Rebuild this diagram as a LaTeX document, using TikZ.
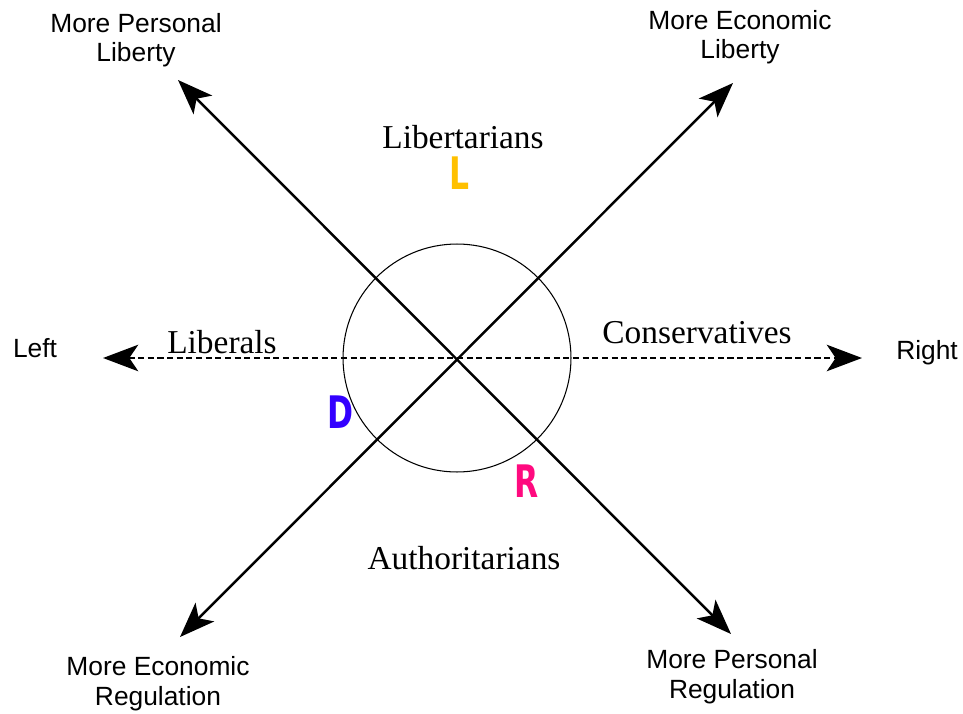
\documentclass[tikz,border=0pt]{standalone}
\usepackage{fontspec}
\setmainfont{Liberation Serif}
\newfontfamily\arialfont{Liberation Sans}
\newfontfamily\letterfont{DejaVu Sans}[FakeStretch=0.7, BoldFont=* Bold]
\usetikzlibrary{arrows.meta}
\definecolor{libyellow}{HTML}{FFC000}
\definecolor{demblue}{HTML}{3300FF}
\definecolor{reppink}{HTML}{FF0A7F}
\tikzset{
  axis/.style={line width=1.4pt, {Stealth[length=20pt,width=15pt,inset=5pt]}-{Stealth[length=20pt,width=15pt,inset=5pt]}},
  corner/.style={font=\arialfont\fontsize{15}{17}\selectfont, align=center, anchor=base},
  group/.style={font=\fontsize{19}{22}\selectfont, anchor=base},
  party/.style={font=\letterfont\bfseries\fontsize{25.5}{28}\selectfont, anchor=base}
}
\begin{document}
\begin{tikzpicture}[x=0.02cm, y=-0.02cm]
      \useasboundingbox (0,0) rectangle (963,713);
      \coordinate (O) at (457, 358);
      \coordinate (NW) at (178, 80);
      \coordinate (SE) at (731, 634);
      \coordinate (NE) at (733, 83);
      \coordinate (SW) at (180, 637);
      \coordinate (W) at (103, 358);
      \coordinate (E) at (862, 358);
      \node[draw, circle, line width=0.6pt, minimum size=4.56cm, inner sep=0pt] (ring) at (O) {};
      \draw[axis] (NW) -- (SE);
      \draw[axis] (SW) -- (NE);
      \draw[axis, line width=1.6pt, dash pattern=on 3.5pt off 2pt] (W) -- (E);
      \node[corner] (pl) at (136, 62) {More Personal\\Liberty};
      \node[corner] (el) at (740, 59) {More Economic\\Liberty};
      \node[corner] (er) at (158, 705) {More Economic\\Regulation};
      \node[corner] (pr) at (732, 698) {More Personal\\Regulation};
      \node[corner] (left) at (35, 357) {Left};
      \node[corner] (right) at (927, 359) {Right};
      \node[group] (lib) at (463, 148) {Libertarians};
      \node[group] (libs) at (222, 353) {Liberals};
      \node[group] (cons) at (697, 343) {Conservatives};
      \node[group] (auth) at (464, 569) {Authoritarians};
      \node[party, text=libyellow] (L) at (459, 189) {L};
      \node[party, text=demblue] (D) at (341, 428) {D};
      \node[party, text=reppink] (R) at (527, 497) {R};
    \end{tikzpicture}
\end{document}
